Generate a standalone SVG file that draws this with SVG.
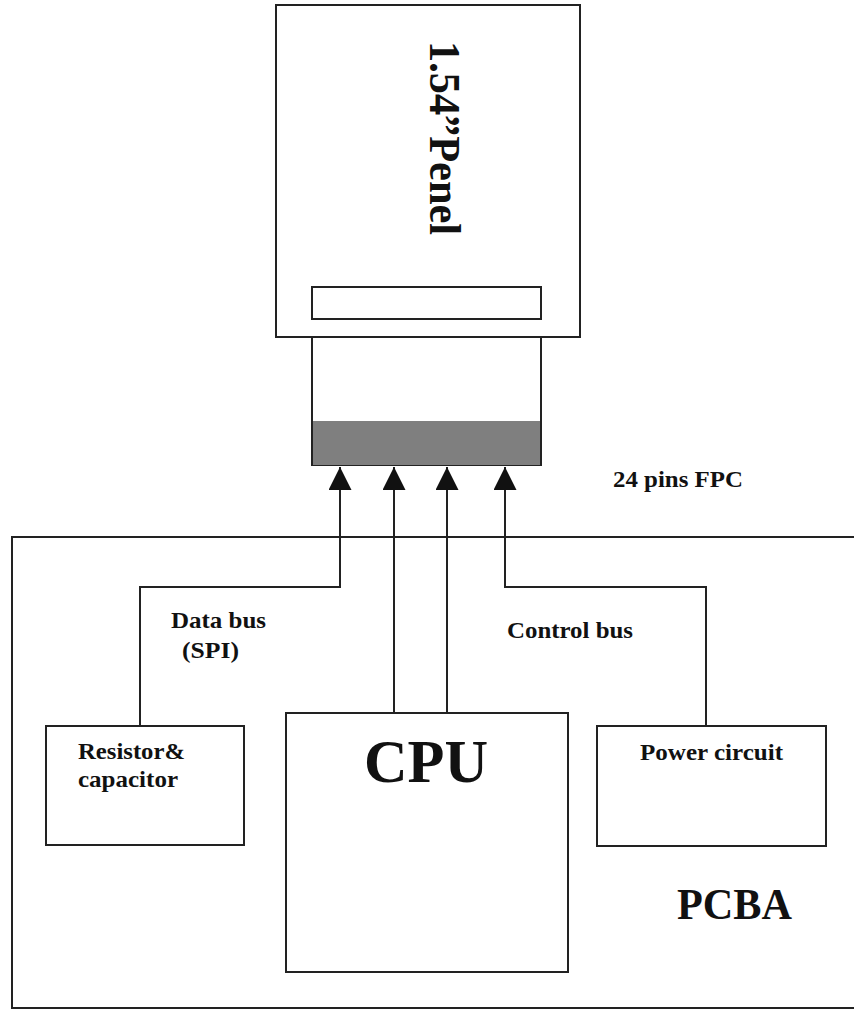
<svg xmlns="http://www.w3.org/2000/svg" width="854" height="1010" viewBox="0 0 854 1010">
<defs>
<style>
.box{fill:#fff;stroke:#222;stroke-width:2}
.wire{fill:none;stroke:#222;stroke-width:2}
.lbl{font-family:"Liberation Serif","Times New Roman",serif;font-weight:bold;fill:#111}
</style>
<marker id="arr" viewBox="0 0 24 24" refX="24" refY="12" markerWidth="24" markerHeight="23" markerUnits="userSpaceOnUse" orient="auto">
<path d="M0,0 L24,12 L0,24 z" fill="#111"/>
</marker>
</defs>
<rect width="854" height="1010" fill="#fff"/>
<g id="pcba">
<path class="wire" d="M860,537 H12 V1008 H860"/>
<text class="lbl" x="677" y="919" font-size="44" textLength="115" lengthAdjust="spacingAndGlyphs">PCBA</text>
</g>
<g id="panel">
<rect class="box" x="276" y="5" width="304" height="332"/>
<rect class="box" x="312" y="287" width="229" height="32"/>
<text class="lbl" transform="translate(430,41) rotate(90)" font-size="44" textLength="194" lengthAdjust="spacingAndGlyphs">1.54”Penel</text>
</g>
<g id="fpc">
<rect class="box" x="312" y="337" width="229" height="128"/>
<rect x="313" y="421" width="227" height="44" fill="#7f7f7f"/>
<text class="lbl" x="613" y="487" font-size="24" textLength="130" lengthAdjust="spacingAndGlyphs">24 pins FPC</text>
</g>
<g id="resistor">
<rect class="box" x="46" y="726" width="198" height="119"/>
<text class="lbl" x="78" y="759" font-size="24" textLength="107" lengthAdjust="spacingAndGlyphs">Resistor&amp;</text>
<text class="lbl" x="78" y="787" font-size="24" textLength="100" lengthAdjust="spacingAndGlyphs">capacitor</text>
</g>
<g id="cpu">
<rect class="box" x="286" y="713" width="282" height="259"/>
<text class="lbl" x="364" y="782" font-size="62" textLength="124" lengthAdjust="spacingAndGlyphs">CPU</text>
</g>
<g id="power">
<rect class="box" x="597" y="726" width="229" height="120"/>
<text class="lbl" x="640" y="760" font-size="24" textLength="143" lengthAdjust="spacingAndGlyphs">Power circuit</text>
</g>
<g id="connectors">
<path class="wire" d="M140,726 V587 H340 V467" marker-end="url(#arr)"/>
<path class="wire" d="M394,713 V467" marker-end="url(#arr)"/>
<path class="wire" d="M447,713 V467" marker-end="url(#arr)"/>
<path class="wire" d="M706,726 V587 H505 V467" marker-end="url(#arr)"/>
<text class="lbl" x="171" y="628" font-size="23" textLength="95" lengthAdjust="spacingAndGlyphs">Data bus</text>
<text class="lbl" x="182" y="658" font-size="23" textLength="57" lengthAdjust="spacingAndGlyphs">(SPI)</text>
<text class="lbl" x="507" y="638" font-size="24" textLength="126" lengthAdjust="spacingAndGlyphs">Control bus</text>
</g>
</svg>
